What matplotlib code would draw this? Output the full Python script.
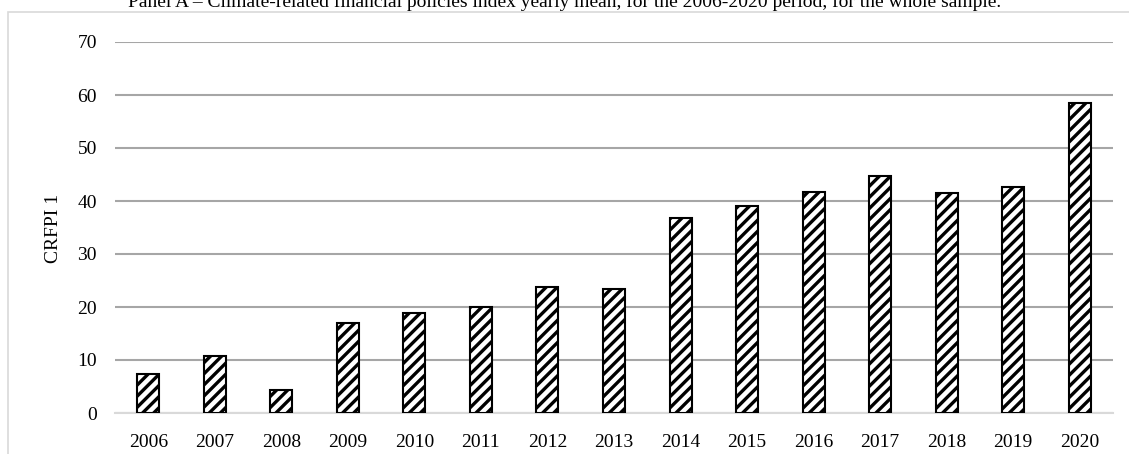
import matplotlib
matplotlib.use("Agg")
import matplotlib.pyplot as plt
from matplotlib.patches import Rectangle

years = ["2006", "2007", "2008", "2009", "2010", "2011", "2012", "2013",
         "2014", "2015", "2016", "2017", "2018", "2019", "2020"]
crfpi_mean = [7.3, 10.7, 4.3, 16.9, 18.9, 20.0, 23.8, 23.4,
              36.7, 39.0, 41.7, 44.8, 41.6, 42.6, 58.5]
y_ticks = [0, 10, 20, 30, 40, 50, 60, 70]

plt.rcParams["font.family"] = ["Liberation Serif", "DejaVu Serif"]
plt.rcParams["hatch.linewidth"] = 2.4
plt.rcParams["hatch.color"] = "black"

W, H = 1129, 454
fig = plt.figure(figsize=(W / 100, H / 100), dpi=100)
ax = fig.add_axes([115 / W, 1 - 413 / H, (1113 - 115) / W, (413 - 42) / H])

x = range(len(years))
ax.bar(x, crfpi_mean, width=0.33, color="white", edgecolor="black",
       linewidth=1.5, hatch="///", zorder=3)

ax.set_xlim(-0.5, len(years) - 0.5)
ax.set_ylim(0, 70)
ax.set_yticks(y_ticks)
ax.set_xticks(list(x))
ax.set_xticklabels(years)
ax.yaxis.grid(True, color="#a6a6a6", linewidth=1.5, zorder=0)
ax.tick_params(axis="both", length=0, labelsize=14, colors="black")
ax.tick_params(axis="y", pad=13)
ax.tick_params(axis="x", pad=15)
for side in ("left", "right", "top"):
    ax.spines[side].set_visible(False)
ax.spines["bottom"].set_color("#d9d9d9")
ax.spines["bottom"].set_linewidth(1.5)

fig.text(53 / W, 1 - 228 / H, "CRFPI 1", rotation=90,
         ha="center", va="center", fontsize=14)

# outer chart frame
fig.add_artist(Rectangle((8 / W, -0.05), 1.05, 1 - 12 / H + 0.05,
                         transform=fig.transFigure, fill=False,
                         edgecolor="#d9d9d9", linewidth=1.2))

fig.text(565 / W, 1 - 7 / H,
         "Panel A – Climate-related financial policies index yearly mean, "
         "for the 2006-2020 period, for the whole sample.",
         ha="center", va="baseline", fontsize=14)

fig.savefig("out.png", dpi=100)
